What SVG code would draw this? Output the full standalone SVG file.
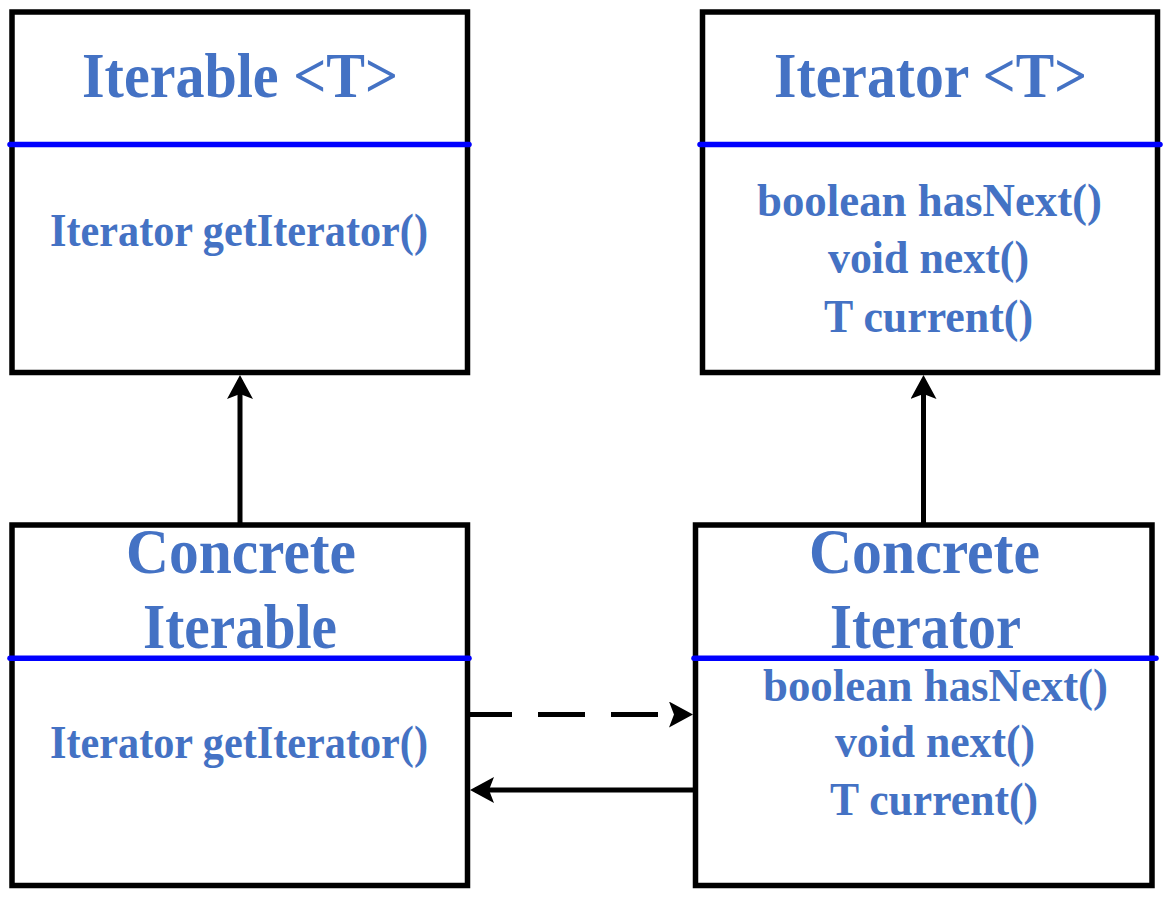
<svg xmlns="http://www.w3.org/2000/svg" width="1166" height="897" viewBox="0 0 1166 897">
<defs>
<style>
.box{fill:#fff;stroke:#000;stroke-width:5.5}
.sep{stroke:#0000FF;stroke-width:5.5;stroke-linecap:round}
.t{font-family:"Liberation Serif","Times New Roman",serif;font-weight:bold;fill:#4472C4;text-anchor:middle}
.title{font-size:64px}
.body{font-size:46px}
.conn{stroke:#000;stroke-width:5;fill:none}
.dash{stroke-dasharray:47 26}
</style>
<marker id="arr" markerUnits="userSpaceOnUse" viewBox="0 0 24 26" markerWidth="24" markerHeight="26" refX="19" refY="13" orient="auto">
<path d="M24,13 L0,0 L5,13 L0,26 Z" fill="#000"/>
</marker>
</defs>
<rect width="1166" height="897" fill="#fff"/>

<g id="iterable">
<rect class="box" x="12" y="12" width="455.5" height="360.5"/>
<line class="sep" x1="10" y1="144.5" x2="469" y2="144.5"/>
<text class="t title" x="240" y="97" textLength="316" lengthAdjust="spacingAndGlyphs">Iterable &lt;T&gt;</text>
<text class="t body" x="239" y="245.5" textLength="378" lengthAdjust="spacingAndGlyphs">Iterator getIterator()</text>
</g>

<g id="iterator">
<rect class="box" x="702.5" y="12" width="455" height="360.5"/>
<line class="sep" x1="700" y1="144.5" x2="1160" y2="144.5"/>
<text class="t title" x="930.5" y="97" textLength="313" lengthAdjust="spacingAndGlyphs">Iterator &lt;T&gt;</text>
<text class="t body" x="929.5" y="216" textLength="345" lengthAdjust="spacingAndGlyphs">boolean hasNext()</text>
<text class="t body" x="928.5" y="273" textLength="201" lengthAdjust="spacingAndGlyphs">void next()</text>
<text class="t body" x="928.5" y="332" textLength="209" lengthAdjust="spacingAndGlyphs">T current()</text>
</g>

<g id="concrete-iterable">
<rect class="box" x="12" y="525" width="455.5" height="360.5"/>
<line class="sep" x1="10" y1="658.3" x2="469" y2="658.3"/>
<text class="t title" x="241" y="572.7" textLength="230" lengthAdjust="spacingAndGlyphs">Concrete</text>
<text class="t title" x="240" y="648" textLength="194" lengthAdjust="spacingAndGlyphs">Iterable</text>
<text class="t body" x="239" y="758" textLength="378" lengthAdjust="spacingAndGlyphs">Iterator getIterator()</text>
</g>

<g id="concrete-iterator">
<rect class="box" x="695.5" y="525" width="456.5" height="360.5"/>
<line class="sep" x1="694" y1="658.3" x2="1156" y2="658.3"/>
<text class="t title" x="924.5" y="572.7" textLength="231" lengthAdjust="spacingAndGlyphs">Concrete</text>
<text class="t title" x="925.5" y="648" textLength="191" lengthAdjust="spacingAndGlyphs">Iterator</text>
<text class="t body" x="935.5" y="701" textLength="345" lengthAdjust="spacingAndGlyphs">boolean hasNext()</text>
<text class="t body" x="935" y="757" textLength="200" lengthAdjust="spacingAndGlyphs">void next()</text>
<text class="t body" x="934" y="815" textLength="208" lengthAdjust="spacingAndGlyphs">T current()</text>
</g>

<g id="connectors">
<line class="conn" x1="240" y1="525" x2="240" y2="380" marker-end="url(#arr)"/>
<line class="conn" x1="923.5" y1="525" x2="923.5" y2="380" marker-end="url(#arr)"/>
<line class="conn dash" x1="465" y1="714.5" x2="688" y2="714.5" marker-end="url(#arr)"/>
<line class="conn" x1="695" y1="790" x2="475" y2="790" marker-end="url(#arr)"/>
</g>
</svg>
